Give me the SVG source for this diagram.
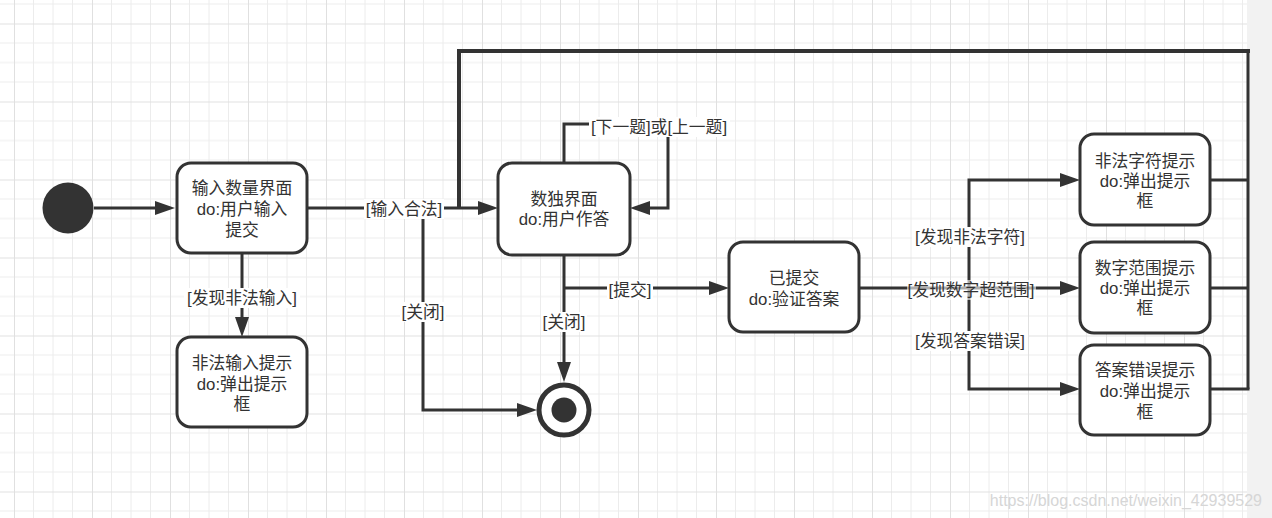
<svg xmlns="http://www.w3.org/2000/svg" width="1272" height="518" viewBox="0 0 1272 518">
<style>
.box{fill:#fff;stroke:#333;stroke-width:3}
.t{font-family:"Liberation Sans","Noto Sans CJK SC",sans-serif;font-size:16.8px;fill:#333;text-anchor:middle}
.ln{fill:none;stroke:#333;stroke-width:3}
.thk{fill:none;stroke:#333;stroke-width:4}
.lb{fill:#fff}
</style>
<defs>
<pattern id="grid" x="14" y="23.5" width="78" height="78" patternUnits="userSpaceOnUse">
<path d="M19.5 0V78M39 0V78M58.5 0V78M0 19.5H78M0 39H78M0 58.5H78" stroke="#ececec" stroke-width="1" fill="none"/>
<path d="M0.5 0V78M0 0.5H78" stroke="#e0e0e0" stroke-width="1" fill="none"/>
</pattern>
<marker id="ar" viewBox="0 0 20 14" markerWidth="20" markerHeight="14" refX="12" refY="7" orient="auto" markerUnits="userSpaceOnUse">
<path d="M0 0L20 7L0 14Z" fill="#333"/>
</marker>
</defs>
<rect width="1272" height="518" fill="#fff"/>
<rect width="1247" height="518" fill="url(#grid)"/>
<rect x="1247" width="25" height="518" fill="#f2f2f2"/>

<g id="connectors">
<path class="ln" d="M94 208H167" marker-end="url(#ar)"/>
<path class="ln" d="M307 208H490" marker-end="url(#ar)"/>
<path class="ln" d="M1248 389V51"/>
<path class="thk" d="M1250 51H459V208"/>
<path class="ln" d="M242 253V329" marker-end="url(#ar)"/>
<path class="ln" d="M423 208V410H529" marker-end="url(#ar)"/>
<path class="ln" d="M564 255V374" marker-end="url(#ar)"/>
<path class="ln" d="M564 288H721" marker-end="url(#ar)"/>
<path class="ln" d="M564 162V124H668V208H638" marker-end="url(#ar)"/>
<path class="ln" d="M859 288H969"/>
<path class="ln" d="M969 288V180H1072" marker-end="url(#ar)"/>
<path class="ln" d="M969 288H1072" marker-end="url(#ar)"/>
<path class="ln" d="M969 288V389H1072" marker-end="url(#ar)"/>
<path class="ln" d="M1210 180H1248M1210 288H1248M1210 389H1249.5"/>
</g>

<g id="labels">
<rect class="lb" x="364" y="199" width="80" height="20"/>
<text class="t" x="404" y="215">[输入合法]</text>
<rect class="lb" x="184" y="288" width="116" height="20"/>
<text class="t" x="242" y="304">[发现非法输入]</text>
<rect class="lb" x="400" y="302" width="46" height="20"/>
<text class="t" x="423" y="318">[关闭]</text>
<rect class="lb" x="541" y="312" width="46" height="20"/>
<text class="t" x="564" y="328">[关闭]</text>
<rect class="lb" x="607" y="280" width="46" height="20"/>
<text class="t" x="630" y="296">[提交]</text>
<rect class="lb" x="589" y="117" width="141" height="20"/>
<text class="t" x="659" y="133">[下一题]或[上一题]</text>
<rect class="lb" x="912" y="227" width="116" height="20"/>
<text class="t" x="970" y="243">[发现非法字符]</text>
<rect class="lb" x="907" y="280" width="129" height="20" fill-opacity="0.6" fill="#fff"/>
<text class="t" x="971" y="296">[发现数字超范围]</text>
<rect class="lb" x="912" y="331" width="116" height="20"/>
<text class="t" x="970" y="347">[发现答案错误]</text>
</g>

<g id="start"><circle cx="68" cy="208" r="25.5" fill="#333"/></g>

<g id="n-input">
<rect class="box" x="177" y="163" width="130" height="90" rx="14"/>
<text class="t" x="242" y="194">输入数量界面</text>
<text class="t" x="242" y="215">do:用户输入</text>
<text class="t" x="242" y="236">提交</text>
</g>

<g id="n-illegal-input">
<rect class="box" x="177" y="337" width="130" height="90" rx="14"/>
<text class="t" x="242" y="369">非法输入提示</text>
<text class="t" x="242" y="390">do:弹出提示</text>
<text class="t" x="242" y="410">框</text>
</g>

<g id="n-sudoku">
<rect class="box" x="498" y="163" width="132" height="92" rx="14"/>
<text class="t" x="564" y="205">数独界面</text>
<text class="t" x="564" y="225">do:用户作答</text>
</g>

<g id="end">
<circle cx="564" cy="410" r="25" fill="#fff" stroke="#333" stroke-width="5"/>
<circle cx="564" cy="410" r="12.5" fill="#333"/>
</g>

<g id="n-submitted">
<rect class="box" x="729" y="242" width="130" height="90" rx="14"/>
<text class="t" x="794" y="284">已提交</text>
<text class="t" x="794" y="305">do:验证答案</text>
</g>

<g id="n-illegal-char">
<rect class="box" x="1080" y="134" width="130" height="91" rx="14"/>
<text class="t" x="1145" y="167">非法字符提示</text>
<text class="t" x="1145" y="187">do:弹出提示</text>
<text class="t" x="1145" y="207">框</text>
</g>

<g id="n-range">
<rect class="box" x="1080" y="242" width="130" height="91" rx="14"/>
<text class="t" x="1145" y="274">数字范围提示</text>
<text class="t" x="1145" y="294">do:弹出提示</text>
<text class="t" x="1145" y="314">框</text>
</g>

<g id="n-wrong">
<rect class="box" x="1080" y="345" width="130" height="90" rx="14"/>
<text class="t" x="1145" y="376">答案错误提示</text>
<text class="t" x="1145" y="397">do:弹出提示</text>
<text class="t" x="1145" y="418">框</text>
</g>

<text x="1262" y="506" font-family="Liberation Sans, sans-serif" font-size="16" fill="#d6d6d6" text-anchor="end">https://blog.csdn.net/weixin_42939529</text>
</svg>
